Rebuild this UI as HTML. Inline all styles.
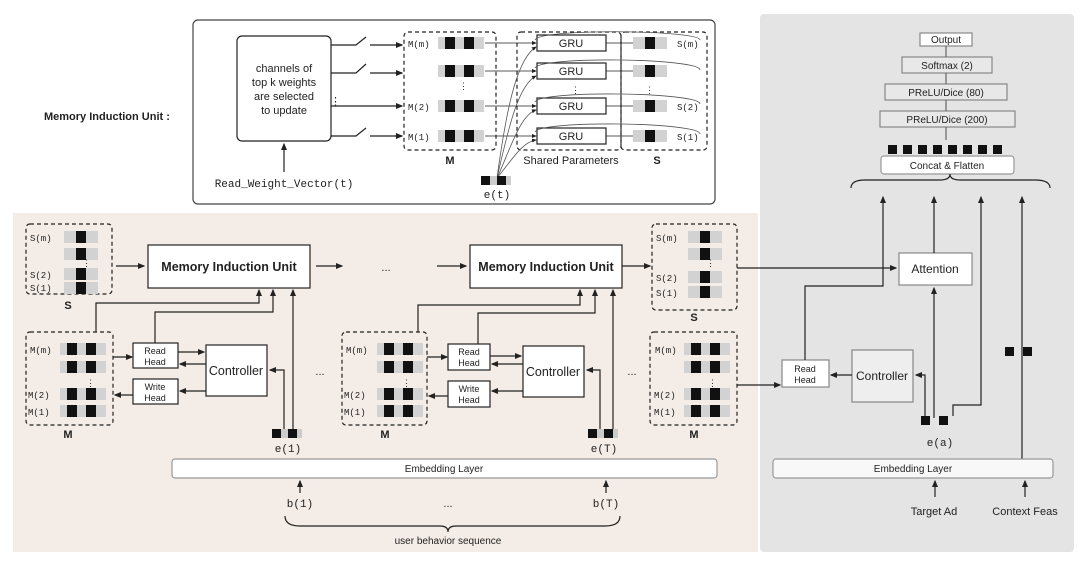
<!DOCTYPE html>
<html><head><meta charset="utf-8"><style>
html,body{margin:0;padding:0;background:#fff;}
svg{display:block;font-family:"Liberation Sans",sans-serif;}
.m{font-family:"Liberation Mono",monospace;}
</style></head><body>
<svg width="1080" height="572" viewBox="0 0 1080 572" xmlns="http://www.w3.org/2000/svg">
<defs>
<marker id="a" markerWidth="6" markerHeight="6" refX="5" refY="3" orient="auto"><path d="M0,0.5 L6,3 L0,5.5z" fill="#222"/></marker>
<g id="mr"><rect x="0" y="0" width="46" height="12" fill="#d2d2d2"/><rect x="7" y="0" width="10" height="12" fill="#111"/><rect x="26" y="0" width="10" height="12" fill="#111"/></g>
<g id="sr"><rect x="0" y="0" width="34" height="12" fill="#d2d2d2"/><rect x="12" y="0" width="10" height="12" fill="#111"/></g>
<g id="er"><rect x="0" y="0" width="30" height="9" fill="#ccc"/><rect x="0" y="0" width="9" height="9" fill="#111"/><rect x="16" y="0" width="9" height="9" fill="#111"/></g>
</defs>
<g fill="none" stroke="#222" stroke-width="1.2">
<rect x="13" y="213" width="745" height="339" fill="#f4ece6" stroke="none"/>
<rect x="760" y="14" width="314" height="538" rx="4" fill="#e4e4e4" stroke="none"/>
<rect x="193" y="20" width="522" height="184" rx="5" fill="#fff" stroke="#444"/>

<rect x="237" y="36" width="94" height="105" rx="5" fill="#fff"/>
<line x1="284" y1="172" x2="284" y2="144" marker-end="url(#a)"/>
<path d="M331,45 H356 L366,37 M370,45 H402" />
<line x1="395" y1="45" x2="402" y2="45" marker-end="url(#a)"/>
<path d="M331,73 H356 L366,64 M370,73 H402" />
<line x1="395" y1="73" x2="402" y2="73" marker-end="url(#a)"/>
<line x1="331" y1="106" x2="402" y2="106" marker-end="url(#a)"/>
<path d="M331,136 H356 L366,128 M370,136 H402"/>
<line x1="395" y1="136" x2="402" y2="136" marker-end="url(#a)"/>
<rect x="404" y="32" width="92" height="118" rx="4" stroke-dasharray="4,3"/>
<rect x="517" y="32" width="104" height="118" rx="4" stroke-dasharray="4,3"/>
<rect x="621" y="32" width="86" height="118" rx="4" stroke-dasharray="4,3"/>
<rect x="537" y="35" width="69" height="16" fill="#fff"/>
<rect x="537" y="63" width="69" height="16" fill="#fff"/>
<rect x="537" y="98" width="69" height="16" fill="#fff"/>
<rect x="537" y="128" width="69" height="16" fill="#fff"/>
<line x1="485" y1="43" x2="536" y2="43" marker-end="url(#a)" stroke-width="0.8"/>
<line x1="485" y1="71" x2="536" y2="71" marker-end="url(#a)" stroke-width="0.8"/>
<line x1="485" y1="106" x2="536" y2="106" marker-end="url(#a)" stroke-width="0.8"/>
<line x1="485" y1="136" x2="536" y2="136" marker-end="url(#a)" stroke-width="0.8"/>
<g stroke-width="0.8" stroke="#555">
<path d="M497,178 C505,120 515,60 536,47" marker-end="url(#a)"/>
<path d="M497,178 C508,130 518,85 536,76" marker-end="url(#a)"/>
<path d="M497,178 C510,150 520,115 536,110" marker-end="url(#a)"/>
<path d="M497,178 C512,160 522,142 536,140" marker-end="url(#a)"/>
<path d="M700,40 C700,30 540,28 535,40"/>
<path d="M700,70 C700,58 540,56 535,68"/>
<path d="M700,104 C700,92 540,90 535,102"/>
<path d="M700,134 C700,122 540,120 535,132"/>
</g>
<line x1="606" y1="43" x2="640" y2="43" marker-end="url(#a)" stroke-width="0.8"/>
<line x1="606" y1="71" x2="640" y2="71" marker-end="url(#a)" stroke-width="0.8"/>
<line x1="606" y1="106" x2="640" y2="106" marker-end="url(#a)" stroke-width="0.8"/>
<line x1="606" y1="136" x2="640" y2="136" marker-end="url(#a)" stroke-width="0.8"/>

<rect x="26" y="224" width="86" height="70" rx="4" stroke-dasharray="4,3"/>
<rect x="26" y="332" width="87" height="93" rx="4" stroke-dasharray="4,3"/>
<rect x="148" y="245" width="162" height="43" fill="#fff"/>
<line x1="116" y1="266" x2="144" y2="266" marker-end="url(#a)"/>
<line x1="316" y1="266" x2="342" y2="266" marker-end="url(#a)"/>
<rect x="133" y="343" width="45" height="25" fill="#fff"/>
<rect x="133" y="379" width="45" height="25" fill="#fff"/>
<rect x="206" y="345" width="61" height="51" fill="#fff"/>
<path d="M96,332 V303 H259 V290" marker-end="url(#a)"/>
<path d="M155,343 V312 H273 V290" marker-end="url(#a)"/>
<line x1="113" y1="357" x2="132" y2="357" marker-end="url(#a)"/>
<line x1="178" y1="352" x2="204" y2="352" marker-end="url(#a)"/>
<line x1="206" y1="364" x2="180" y2="364" marker-end="url(#a)"/>
<line x1="206" y1="391" x2="180" y2="391" marker-end="url(#a)"/>
<line x1="133" y1="395" x2="115" y2="395" marker-end="url(#a)"/>
<path d="M284,430 V370 H270" marker-end="url(#a)"/>
<line x1="293" y1="430" x2="293" y2="290" marker-end="url(#a)"/>

<rect x="470" y="245" width="152" height="43" fill="#fff"/>
<line x1="437" y1="266" x2="466" y2="266" marker-end="url(#a)"/>
<line x1="622" y1="266" x2="650" y2="266" marker-end="url(#a)"/>
<rect x="652" y="224" width="85" height="86" rx="4" stroke-dasharray="4,3"/>
<rect x="342" y="332" width="85" height="93" rx="4" stroke-dasharray="4,3"/>
<rect x="650" y="332" width="87" height="93" rx="4" stroke-dasharray="4,3"/>
<rect x="448" y="344" width="42" height="26" fill="#fff"/>
<rect x="448" y="381" width="42" height="26" fill="#fff"/>
<rect x="523" y="346" width="61" height="51" fill="#fff"/>
<path d="M418,332 V305 H580 V290" marker-end="url(#a)"/>
<path d="M478,344 V313 H595 V290" marker-end="url(#a)"/>
<line x1="427" y1="357" x2="447" y2="357" marker-end="url(#a)"/>
<line x1="490" y1="356" x2="521" y2="356" marker-end="url(#a)"/>
<line x1="523" y1="364" x2="492" y2="364" marker-end="url(#a)"/>
<line x1="523" y1="391" x2="492" y2="391" marker-end="url(#a)"/>
<line x1="448" y1="396" x2="429" y2="396" marker-end="url(#a)"/>
<path d="M600,430 V370 H587" marker-end="url(#a)"/>
<line x1="613" y1="430" x2="613" y2="290" marker-end="url(#a)"/>
<line x1="737" y1="268" x2="896" y2="268" marker-end="url(#a)"/>
<path d="M737,385 H780" marker-end="url(#a)"/>

<rect x="172" y="459" width="545" height="19" rx="3" fill="#fff" stroke="#999"/>
<line x1="300" y1="493" x2="300" y2="481" marker-end="url(#a)"/>
<line x1="606" y1="493" x2="606" y2="481" marker-end="url(#a)"/>
<path d="M285,516 Q285,526 300,526 H440 Q448,526 448,532 Q448,526 456,526 H605 Q620,526 620,516"/>

<rect x="920" y="33" width="52" height="13" fill="#fff" stroke="#888"/>
<rect x="902" y="57" width="90" height="16" fill="#e8e8e8" stroke="#888"/>
<rect x="885" y="84" width="122" height="16" fill="#e8e8e8" stroke="#888"/>
<rect x="880" y="111" width="135" height="16" fill="#e8e8e8" stroke="#888"/>
<line x1="946" y1="46" x2="946" y2="57" stroke="#666"/>
<line x1="946" y1="73" x2="946" y2="84" stroke="#666"/>
<line x1="946" y1="100" x2="946" y2="111" stroke="#666"/>
<line x1="946" y1="127" x2="946" y2="140" stroke="#666"/>
<rect x="881" y="156" width="133" height="18" rx="3" fill="#fff" stroke="#999"/>
<path d="M851,188 Q851,180 865,180 H940 Q950,180 950,174 Q950,180 960,180 H1035 Q1050,180 1050,188"/>
<rect x="899" y="253" width="73" height="32" fill="#fff" stroke="#888"/>
<rect x="782" y="360" width="47" height="27" fill="#fff" stroke="#888"/>
<rect x="852" y="350" width="61" height="52" fill="#eee" stroke="#888"/>
<path d="M805,360 V286 H883 V197" marker-end="url(#a)"/>
<line x1="934" y1="253" x2="934" y2="197" marker-end="url(#a)"/>
<line x1="934" y1="418" x2="934" y2="288" marker-end="url(#a)"/>
<path d="M953,416 V405 H981 V197" marker-end="url(#a)"/>
<path d="M925,418 V375 H916" marker-end="url(#a)"/>
<line x1="852" y1="375" x2="831" y2="375" marker-end="url(#a)"/>
<line x1="1022" y1="459" x2="1022" y2="197" marker-end="url(#a)"/>
<rect x="773" y="459" width="280" height="19" rx="3" fill="#f8f8f8" stroke="#999"/>
<line x1="935" y1="497" x2="935" y2="481" marker-end="url(#a)"/>
<line x1="1025" y1="497" x2="1025" y2="481" marker-end="url(#a)"/>
</g>

<g>
<use href="#mr" x="438" y="37"/><use href="#mr" x="438" y="65"/><use href="#mr" x="438" y="100"/><use href="#mr" x="438" y="130"/>
<use href="#sr" x="633" y="37"/><use href="#sr" x="633" y="65"/><use href="#sr" x="633" y="100"/><use href="#sr" x="633" y="130"/>
<use href="#er" x="481" y="176"/>
<use href="#sr" x="64" y="231"/><use href="#sr" x="64" y="248"/><use href="#sr" x="64" y="268"/><use href="#sr" x="64" y="282"/>
<use href="#mr" x="60" y="343"/><use href="#mr" x="60" y="361"/><use href="#mr" x="60" y="388"/><use href="#mr" x="60" y="405"/>
<use href="#er" x="272" y="429"/>
<use href="#mr" x="377" y="343"/><use href="#mr" x="377" y="361"/><use href="#mr" x="377" y="388"/><use href="#mr" x="377" y="405"/>
<use href="#er" x="588" y="429"/>
<use href="#sr" x="688" y="231"/><use href="#sr" x="688" y="248"/><use href="#sr" x="688" y="271"/><use href="#sr" x="688" y="286"/>
<use href="#mr" x="684" y="343"/><use href="#mr" x="684" y="361"/><use href="#mr" x="684" y="388"/><use href="#mr" x="684" y="405"/>
<g fill="#111"><rect x="888" y="145" width="9" height="9"/><rect x="903" y="145" width="9" height="9"/><rect x="918" y="145" width="9" height="9"/><rect x="933" y="145" width="9" height="9"/><rect x="948" y="145" width="9" height="9"/><rect x="963" y="145" width="9" height="9"/><rect x="978" y="145" width="9" height="9"/><rect x="993" y="145" width="9" height="9"/>
<rect x="921" y="416" width="9" height="9"/><rect x="939" y="416" width="9" height="9"/>
<rect x="1005" y="347" width="9" height="9"/><rect x="1023" y="347" width="9" height="9"/></g>
</g>

<g font-size="11" fill="#222">
<text x="44" y="120" font-weight="bold">Memory Induction Unit :</text>
<text x="284" y="72" text-anchor="middle">channels of</text>
<text x="284" y="86" text-anchor="middle">top k weights</text>
<text x="284" y="100" text-anchor="middle">are selected</text>
<text x="284" y="114" text-anchor="middle">to update</text>
<text x="284" y="187" text-anchor="middle" class="m" font-size="11">Read_Weight_Vector(t)</text>
<text x="330" y="105">⋮</text>
<g class="m" font-size="9"><text x="408" y="47">M(m)</text><text x="408" y="110">M(2)</text><text x="408" y="140">M(1)</text>
<text x="677" y="47">S(m)</text><text x="677" y="110">S(2)</text><text x="677" y="140">S(1)</text></g>
<text x="459" y="89" font-size="9">⋮</text><text x="571" y="93" font-size="9">⋮</text><text x="645" y="93" font-size="9">⋮</text>
<g text-anchor="middle"><text x="571" y="47">GRU</text><text x="571" y="75">GRU</text><text x="571" y="110">GRU</text><text x="571" y="140">GRU</text>
<text x="450" y="164" font-weight="bold">M</text><text x="571" y="164">Shared Parameters</text><text x="657" y="164" font-weight="bold">S</text>
<text x="497" y="198" class="m">e(t)</text></g>

<g class="m" font-size="9"><text x="30" y="241">S(m)</text><text x="30" y="278">S(2)</text><text x="30" y="291">S(1)</text>
<text x="30" y="353">M(m)</text><text x="28" y="398">M(2)</text><text x="28" y="415">M(1)</text>
<text x="346" y="353">M(m)</text><text x="344" y="398">M(2)</text><text x="344" y="415">M(1)</text>
<text x="656" y="241">S(m)</text><text x="656" y="281">S(2)</text><text x="656" y="296">S(1)</text>
<text x="655" y="353">M(m)</text><text x="654" y="398">M(2)</text><text x="654" y="415">M(1)</text></g>
<g font-size="9"><text x="82" y="266">⋮</text><text x="86" y="386">⋮</text><text x="402" y="386">⋮</text><text x="706" y="266">⋮</text><text x="708" y="386">⋮</text></g>
<g text-anchor="middle">
<text x="68" y="309" font-weight="bold">S</text><text x="68" y="438" font-weight="bold">M</text>
<text x="385" y="438" font-weight="bold">M</text><text x="694" y="438" font-weight="bold">M</text><text x="694" y="321" font-weight="bold">S</text>
<text x="229" y="271" font-weight="bold" font-size="12.5">Memory Induction Unit</text>
<text x="546" y="271" font-weight="bold" font-size="12.5">Memory Induction Unit</text>
<text x="386" y="271">...</text><text x="320" y="375">...</text><text x="632" y="375">...</text>
<text x="155" y="354" font-size="9">Read</text><text x="155" y="365" font-size="9">Head</text>
<text x="155" y="390" font-size="9">Write</text><text x="155" y="401" font-size="9">Head</text>
<text x="236" y="375" font-size="12.5">Controller</text>
<text x="469" y="355" font-size="9">Read</text><text x="469" y="366" font-size="9">Head</text>
<text x="469" y="392" font-size="9">Write</text><text x="469" y="403" font-size="9">Head</text>
<text x="553" y="376" font-size="12.5">Controller</text>
<text x="288" y="452" class="m">e(1)</text><text x="604" y="452" class="m">e(T)</text>
<text x="444" y="472" font-size="10">Embedding Layer</text>
<text x="300" y="507" class="m">b(1)</text><text x="606" y="507" class="m">b(T)</text><text x="448" y="507">...</text>
<text x="448" y="544" font-size="10">user behavior sequence</text>

<text x="946" y="43" font-size="10">Output</text>
<text x="947" y="69" font-size="10">Softmax (2)</text>
<text x="946" y="96" font-size="10">PReLU/Dice (80)</text>
<text x="947" y="123" font-size="10">PReLU/Dice (200)</text>
<text x="947" y="169" font-size="10">Concat &amp; Flatten</text>
<text x="935" y="273" font-size="12">Attention</text>
<text x="805" y="372" font-size="9">Read</text><text x="805" y="383" font-size="9">Head</text>
<text x="882" y="380" font-size="12">Controller</text>
<text x="940" y="446" class="m">e(a)</text>
<text x="913" y="472" font-size="10">Embedding Layer</text>
<text x="934" y="515">Target Ad</text>
<text x="1025" y="515">Context Feas</text>
</g></g>
</svg>
</body></html>
